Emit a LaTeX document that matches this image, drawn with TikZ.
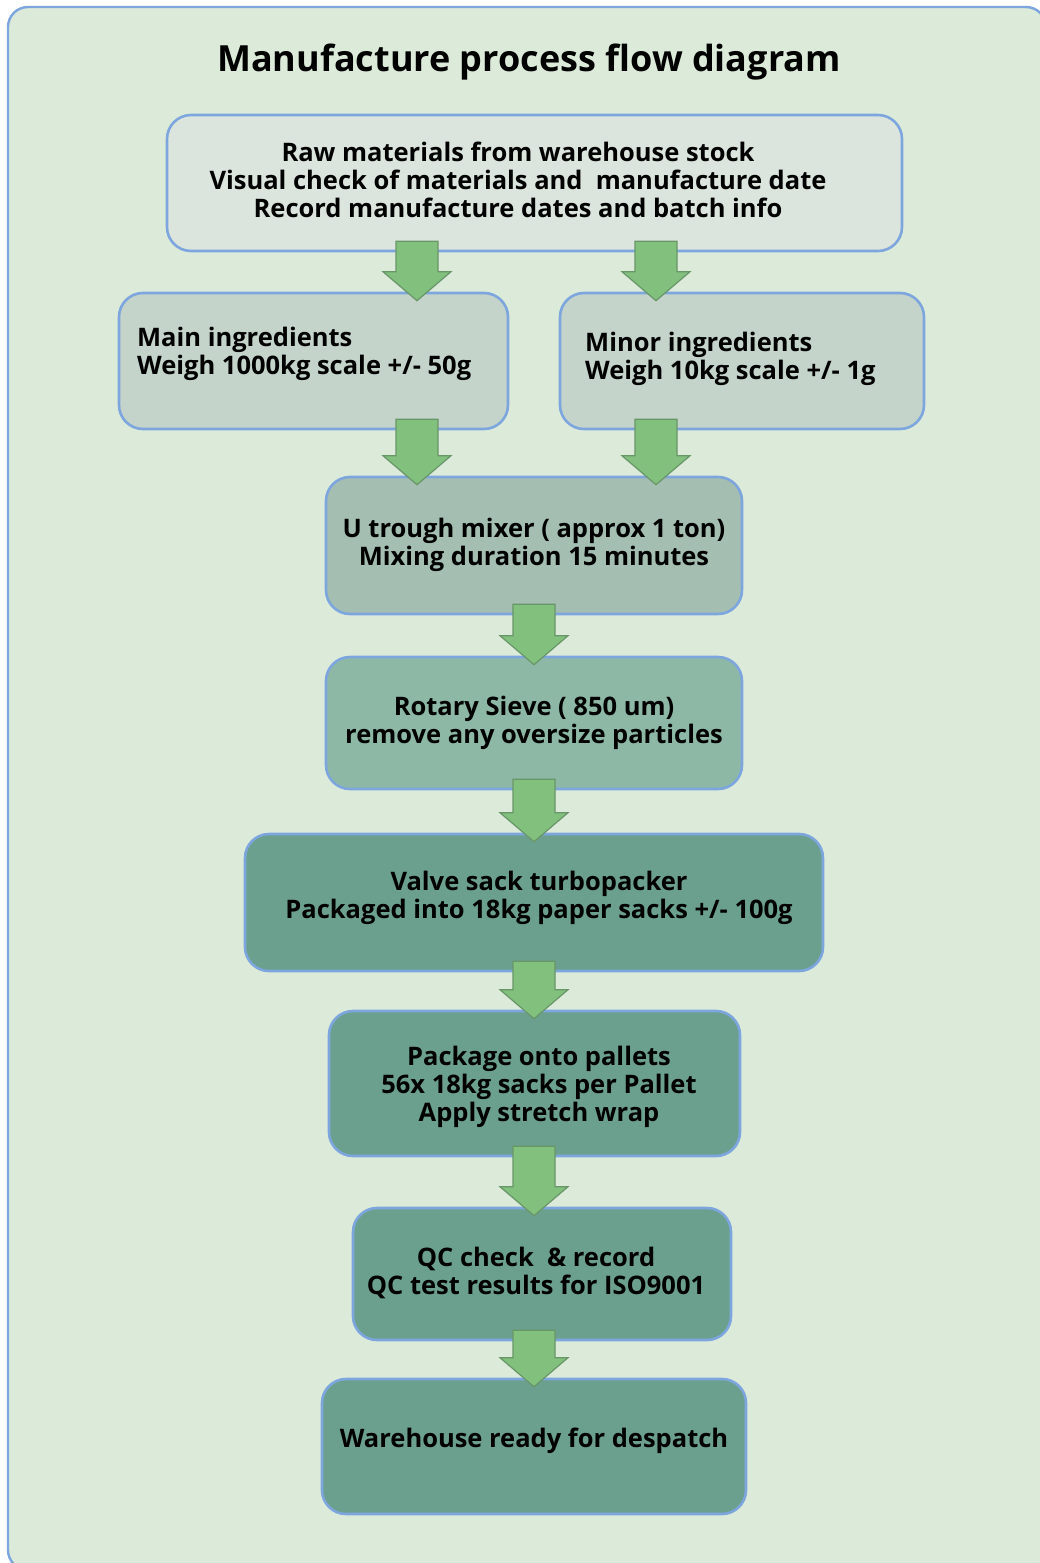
\documentclass[tikz,border=0pt]{standalone}
\usepackage{fontspec}
\setmainfont{Open Sans}
\usetikzlibrary{calc}

\definecolor{framefill}{RGB}{219,234,217}
\definecolor{edgeblue}{RGB}{126,166,222}
\definecolor{paleboxfill}{RGB}{220,229,221}
\definecolor{ingrfill}{RGB}{196,212,203}
\definecolor{mixfill}{RGB}{164,190,177}
\definecolor{sievefill}{RGB}{142,184,166}
\definecolor{packfill}{RGB}{108,160,142}
\definecolor{arrowfill}{RGB}{130,192,126}
\definecolor{arrowedge}{RGB}{104,150,104}

% block arrow from one box down into the next, in a given column
\newcommand{\flowarrow}[3]{%
  \path ([yshift=11pt]#1.south -| #3) coordinate (tail)
        ([yshift=-9pt]#2.north -| #3) coordinate (tip);
  \draw[flowarr] (tail) ++(-21,0) -- ++(42,0) -- ($(tip)+(21,-29)$)
    -- ++(13,0) -- (tip) -- ++(-34,-29) -- ++(13,0) -- cycle;}

\begin{document}
\begin{tikzpicture}[%
  x=1pt, y=-1pt,
  box/.style={draw=edgeblue, line width=2.6pt, rounded corners=24pt,
    inner sep=0pt},
  txt/.style={font=\bfseries\fontsize{25.5}{28}\selectfont, inner sep=0pt},
  flowarr/.style={fill=arrowfill, draw=arrowedge, line width=1.2pt,
    line join=miter}]
\clip (0,0) rectangle (1040,1563);
\draw[draw=edgeblue, fill=framefill, line width=2.4pt, rounded corners=20pt]
  (8,7) rectangle (1046,1570);

\node[font=\bfseries\fontsize{36}{40}\selectfont, anchor=base, inner sep=0pt]
  (title) at (529,71) {Manufacture process flow diagram};

% boxes
\node[box, fill=paleboxfill, minimum width=735, minimum height=136] (raw) at (534.5,183) {};
\node[box, fill=ingrfill, minimum width=389, minimum height=136] (mainIng) at (313.5,361) {};
\node[box, fill=ingrfill, minimum width=364, minimum height=136] (minorIng) at (742,361) {};
\node[box, fill=mixfill, minimum width=416, minimum height=137] (mixer) at (534,545.5) {};
\node[box, fill=sievefill, minimum width=416, minimum height=132] (sieve) at (534,723) {};
\node[box, fill=packfill, minimum width=578, minimum height=137] (packer) at (534,902.5) {};
\node[box, fill=packfill, minimum width=411, minimum height=145] (pallets) at (534.5,1083.5) {};
\node[box, fill=packfill, minimum width=378, minimum height=132] (qccheck) at (542,1274) {};
\node[box, fill=packfill, minimum width=424, minimum height=135] (despatch) at (534,1446.5) {};

% texts (base = baseline of the last line)
\node[txt, anchor=base, align=center] (rawtext) at (518,217)
  {Raw materials from warehouse stock\\Visual check of materials and \ manufacture date\\Record manufacture dates and batch info};
\node[txt, anchor=base west, align=left] (maintext) at (137,374)
  {Main ingredients\\Weigh 1000kg scale +/- 50g};
\node[txt, anchor=base west, align=left] (minortext) at (585,379)
  {Minor ingredients\\Weigh 10kg scale +/- 1g};
\node[txt, anchor=base, align=center] (mixtext) at (534,565)
  {U trough mixer ( approx 1 ton)\\Mixing duration 15 minutes};
\node[txt, anchor=base, align=center] (sievetext) at (534,743)
  {Rotary Sieve ( 850 um)\\remove any oversize particles};
\node[txt, anchor=base, align=center] (packtext) at (539,918)
  {Valve sack turbopacker\\Packaged into 18kg paper sacks +/- 100g};
\node[txt, anchor=base, align=center] (pallettext) at (539,1121)
  {Package onto pallets\\56x 18kg sacks per Pallet\\Apply stretch wrap};
\node[txt, anchor=base, align=center] (qctext) at (536,1294)
  {QC check \ \& record\\QC test results for ISO9001};
\node[txt, anchor=base] (despatchtext) at (534,1447)
  {Warehouse ready for despatch};

% arrows
\coordinate (colL) at (417,0);
\coordinate (colR) at (656,0);
\coordinate (colM) at (534,0);
\flowarrow{raw}{mainIng}{colL}
\flowarrow{raw}{minorIng}{colR}
\flowarrow{mainIng}{mixer}{colL}
\flowarrow{minorIng}{mixer}{colR}
\flowarrow{mixer}{sieve}{colM}
\flowarrow{sieve}{packer}{colM}
\flowarrow{packer}{pallets}{colM}
\flowarrow{pallets}{qccheck}{colM}
\flowarrow{qccheck}{despatch}{colM}
\end{tikzpicture}
\end{document}
